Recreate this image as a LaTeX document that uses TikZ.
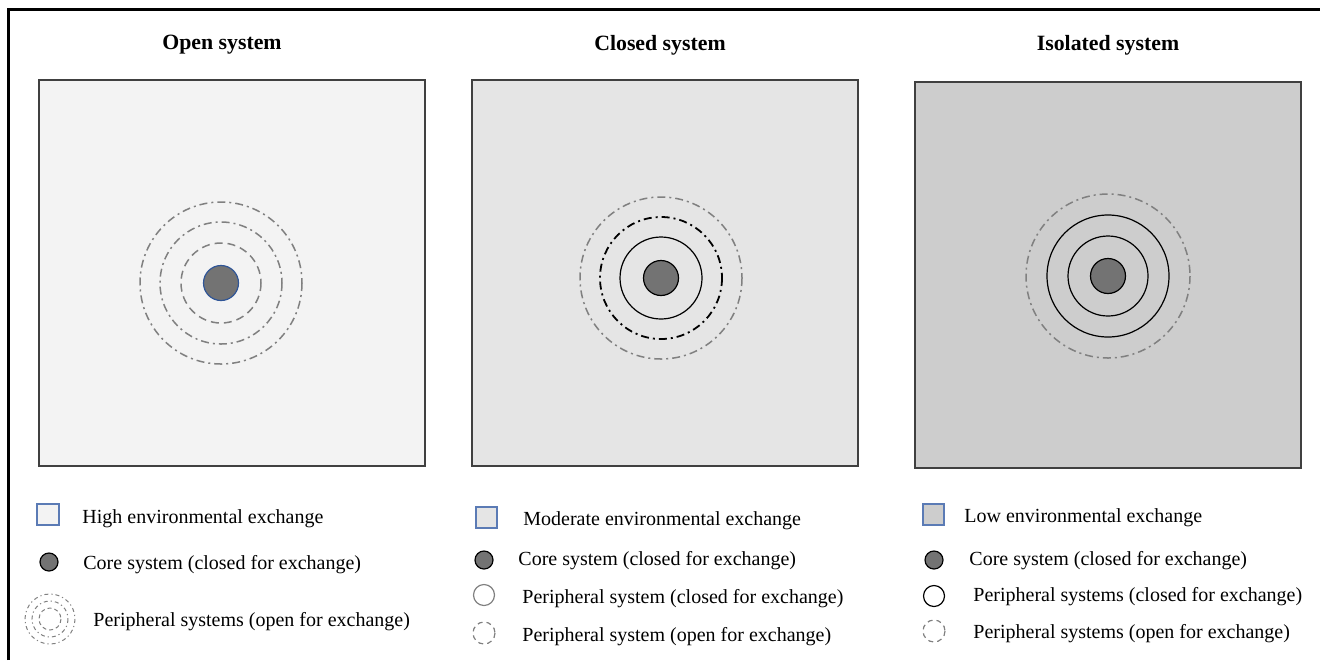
\documentclass[tikz,border=0pt]{standalone}
\usepackage{fontspec}
\setmainfont{Liberation Serif}
\usepackage{xcolor}
\definecolor{boxopen}{HTML}{F3F3F3}
\definecolor{boxclosed}{HTML}{E5E5E5}
\definecolor{boxisolated}{HTML}{CDCDCD}
\definecolor{boxedge}{HTML}{404040}
\definecolor{coregray}{HTML}{737373}
\definecolor{coreblue}{HTML}{2F5597}
\definecolor{ringgray}{HTML}{808080}
\definecolor{legblue}{HTML}{5B7BB5}
\tikzset{
  panel/.style={draw=boxedge, line width=0.75pt},
  ringdash/.style={draw=ringgray, line width=0.75pt, dash pattern=on 4pt off 2.5pt},
  ringdot/.style={draw=ringgray, line width=0.75pt, dash pattern=on 4pt off 2pt on 1pt off 2pt},
  ringsolid/.style={draw=black, line width=0.6pt},
  core/.style={fill=coregray, draw=black, line width=0.6pt},
  legsquare/.style={draw=legblue, line width=0.6pt},
  systitle/.style={font=\bfseries\fontsize{10.9pt}{13pt}\selectfont},
  legtext/.style={anchor=west, inner sep=0pt, font=\fontsize{10pt}{12pt}\selectfont},
}

\begin{document}
\begin{tikzpicture}[x=0.5pt, y=-0.5pt]
  \useasboundingbox (0,0) rectangle (1320,660);
  % frame
  \draw[line width=1.5pt] (8,660) -- (8,9) -- (1320,9);
  % titles
  \node[systitle] (titleopen) at (222,45) {Open system};
  \node[systitle] (titleclosed) at (660,45) {Closed system};
  \node[systitle] (titleisolated) at (1108,45) {Isolated system};

  % open system
  \draw[panel, fill=boxopen] (39,80) rectangle (425,466);
  \draw[ringdot] (221,283) circle (81);
  \draw[ringdot] (221,283) circle (61);
  \draw[ringdash] (221,283) circle (40);
  \draw[core, draw=coreblue] (221,283) circle (17.5);

  % closed system
  \draw[panel, fill=boxclosed] (472,80) rectangle (858,466);
  \draw[ringdot] (661,278) circle (81);
  \draw[ringdot, draw=black, line width=0.9pt] (661,278) circle (61);
  \draw[ringsolid] (661,278) circle (41);
  \draw[core] (661,278) circle (17.5);

  % isolated system
  \draw[panel, fill=boxisolated] (915,82) rectangle (1301,468);
  \draw[ringdot] (1108,276) circle (82);
  \draw[ringsolid] (1108,276) circle (61);
  \draw[ringsolid] (1108,276) circle (40);
  \draw[core] (1108,276) circle (17.5);

  % legend, open system
  \draw[legsquare, fill=boxopen] (37,504) rectangle (59,525);
  \node[legtext] (legopenenv) at (82,519) {High environmental exchange};
  \draw[core] (49,562) circle (9);
  \node[legtext] (legopencore) at (83,565) {Core system (closed for exchange)};
  \draw[ringdot, draw=gray, line width=0.5pt, dash pattern=on 2pt off 1.5pt on 0.6pt off 1.5pt] (50,619) circle (25);
  \draw[ringdot, draw=gray, line width=0.5pt, dash pattern=on 2pt off 1.5pt on 0.6pt off 1.5pt] (50,619) circle (18);
  \draw[ringdash, draw=gray, line width=0.5pt, dash pattern=on 2pt off 1.5pt] (50,619) circle (11);
  \node[legtext] (legopenperi) at (93,622) {Peripheral systems (open for exchange)};

  % legend, closed system
  \draw[legsquare, fill=boxclosed] (476,507) rectangle (497,528);
  \node[legtext] (legclosedenv) at (523,521) {Moderate environmental exchange};
  \draw[core] (484,560) circle (9);
  \node[legtext] (legclosedcore) at (518,561) {Core system (closed for exchange)};
  \draw[draw=ringgray, line width=0.6pt] (484,595) circle (10.5);
  \node[legtext] (legclosedperi) at (522,599) {Peripheral system (closed for exchange)};
  \draw[ringdash, line width=0.6pt, dash pattern=on 2.5pt off 2pt] (484,633) circle (11);
  \node[legtext] (legclosedopen) at (522,637) {Peripheral system (open for exchange)};

  % legend, isolated system
  \draw[legsquare, fill=boxisolated] (923,504) rectangle (944,525);
  \node[legtext] (legisoenv) at (964,518) {Low environmental exchange};
  \draw[core] (934,560) circle (9);
  \node[legtext] (legisocore) at (969,561) {Core system (closed for exchange)};
  \draw[ringsolid] (934,596) circle (10.5);
  \node[legtext] (legisoperi) at (973,597) {Peripheral systems (closed for exchange)};
  \draw[ringdash, line width=0.6pt, dash pattern=on 2.5pt off 2pt] (934,631) circle (11);
  \node[legtext] (legisoopen) at (973,634) {Peripheral systems (open for exchange)};
\end{tikzpicture}
\end{document}
